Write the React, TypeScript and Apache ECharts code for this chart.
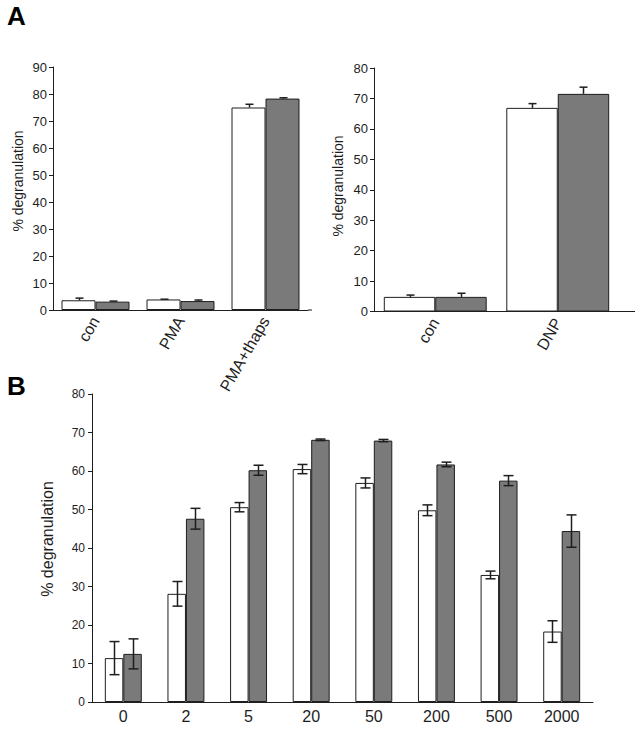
import React, { useEffect, useRef } from "react";
import * as echarts from "echarts";

// Panel A (left)
const catsA1 = ["con", "PMA", "PMA+thaps"];
const whiteA1 = [3.6, 3.9, 75.0];
const errWhiteA1 = [0.8, 0.1, 1.2];
const grayA1 = [3.1, 3.3, 78.3];
const errGrayA1 = [0.2, 0.4, 0.3];

// Panel A (right)
const catsA2 = ["con", "DNP"];
const whiteA2 = [4.8, 66.9];
const errWhiteA2 = [0.6, 1.4];
const grayA2 = [4.8, 71.5];
const errGrayA2 = [1.2, 2.2];

// Panel B
const catsB = ["0", "2", "5", "20", "50", "200", "500", "2000"];
const whiteB = [11.4, 28.1, 50.6, 60.5, 56.9, 49.8, 33.0, 18.3];
const errWhiteB = [4.3, 3.2, 1.2, 1.2, 1.3, 1.4, 1.0, 2.8];
const grayB = [12.5, 47.6, 60.2, 68.1, 67.9, 61.7, 57.5, 44.4];
const errGrayB = [3.9, 2.7, 1.3, 0.2, 0.3, 0.6, 1.3, 4.2];

const Y_NAME = "% degranulation";

const FONT = "Liberation Sans, Arial, Helvetica, sans-serif";
const INK = "#1e1e1e";
const GRAY = "#7a7a7a";

function errSeries(
  gridIdx: number,
  vals: number[],
  errs: number[],
  side: number,
  gapFrac: number,
  both: boolean,
  capW: number
) {
  return {
    type: "custom",
    xAxisIndex: gridIdx,
    yAxisIndex: gridIdx,
    z: 10,
    silent: true,
    encode: { x: 0, y: 1 },
    data: vals.map((v, i) => [i, v, errs[i], side]),
    renderItem: (params: any, api: any) => {
      const i = api.value(0);
      const v = api.value(1);
      const e = api.value(2);
      const s = api.value(3);
      const band = api.size([1, 0])[0];
      const barW = (band * (1 - gapFrac)) / 2;
      const c = api.coord([i, v]);
      const x = Math.round(c[0] + (s === 0 ? -barW / 2 : barW / 2)) + 0.5;
      const yTop = api.coord([i, v + e])[1];
      const yBot = both ? api.coord([i, v - e])[1] : c[1];
      const st = { stroke: INK, lineWidth: 1.5 };
      const children: any[] = [
        { type: "line", shape: { x1: x, y1: yTop, x2: x, y2: yBot }, style: st },
        { type: "line", shape: { x1: x - capW / 2, y1: yTop, x2: x + capW / 2, y2: yTop }, style: st },
      ];
      if (both) {
        children.push({
          type: "line",
          shape: { x1: x - capW / 2, y1: yBot, x2: x + capW / 2, y2: yBot },
          style: st,
        });
      }
      return { type: "group", children };
    },
  };
}

function barSeries(gridIdx: number, vals: number[], color: string, gap: string) {
  return {
    type: "bar",
    xAxisIndex: gridIdx,
    yAxisIndex: gridIdx,
    barGap: "0%",
    barCategoryGap: gap,
    data: vals,
    itemStyle: { color, borderColor: INK, borderWidth: 1 },
    z: 2,
  };
}

function yAxis(gridIdx: number, max: number, fs: number, tickLen: number, margin: number) {
  return {
    type: "value",
    gridIndex: gridIdx,
    min: 0,
    max,
    interval: 10,
    axisLine: { show: true, lineStyle: { color: INK, width: 1 } },
    axisTick: { show: true, length: tickLen, lineStyle: { color: INK } },
    axisLabel: { fontFamily: FONT, fontSize: fs, color: INK, margin },
    splitLine: { show: false },
  };
}

function yName(x: number, y: number, fs: number) {
  return {
    type: "text",
    x,
    y,
    rotation: Math.PI / 2,
    style: {
      text: Y_NAME,
      fontFamily: FONT,
      fontSize: fs,
      fill: INK,
      align: "center",
      verticalAlign: "middle",
    },
  };
}

export default function App() {
  const ref = useRef<HTMLDivElement>(null);
  useEffect(() => {
    if (!ref.current) return;
    const chart = echarts.init(ref.current, undefined, { renderer: "svg" });
    const option: any = {
      animation: false,
      backgroundColor: "#ffffff",
      grid: [
        { left: 53, top: 67, width: 255, height: 243 },
        { left: 374, top: 68, width: 245, height: 243.5 },
        { left: 92, top: 394, width: 501, height: 308 },
      ],
      xAxis: [
        {
          type: "category",
          gridIndex: 0,
          data: catsA1,
          axisLine: { lineStyle: { color: INK, width: 1 } },
          axisTick: { show: false },
          axisLabel: { fontFamily: FONT, fontSize: 16, color: INK, rotate: 60, margin: 8, interval: 0 },
        },
        {
          type: "category",
          gridIndex: 1,
          data: catsA2,
          axisLine: { lineStyle: { color: INK, width: 1 } },
          axisTick: { show: false },
          axisLabel: { fontFamily: FONT, fontSize: 16, color: INK, rotate: 60, margin: 8, interval: 0 },
        },
        {
          type: "category",
          gridIndex: 2,
          data: catsB,
          axisLine: { lineStyle: { color: INK, width: 1 } },
          axisTick: { show: false },
          axisLabel: { fontFamily: FONT, fontSize: 16, color: INK, margin: 6, interval: 0 },
        },
      ],
      yAxis: [yAxis(0, 90, 13, 4, 6), yAxis(1, 80, 13, 4, 6), yAxis(2, 80, 12, 4, 7)],
      series: [
        barSeries(0, whiteA1, "#ffffff", "20%"),
        barSeries(0, grayA1, GRAY, "20%"),
        errSeries(0, whiteA1, errWhiteA1, 0, 0.2, false, 8),
        errSeries(0, grayA1, errGrayA1, 1, 0.2, false, 8),
        barSeries(1, whiteA2, "#ffffff", "16%"),
        barSeries(1, grayA2, GRAY, "16%"),
        errSeries(1, whiteA2, errWhiteA2, 0, 0.16, false, 8),
        errSeries(1, grayA2, errGrayA2, 1, 0.16, false, 8),
        barSeries(2, whiteB, "#ffffff", "41%"),
        barSeries(2, grayB, GRAY, "41%"),
        errSeries(2, whiteB, errWhiteB, 0, 0.41, true, 10),
        errSeries(2, grayB, errGrayB, 1, 0.41, true, 10),
      ],
      graphic: [
        {
          type: "text",
          left: 7,
          top: 3,
          style: { text: "A", fontFamily: FONT, fontSize: 26, fontWeight: "bold", fill: "#000" },
        },
        {
          type: "text",
          left: 7,
          top: 373,
          style: { text: "B", fontFamily: FONT, fontSize: 26, fontWeight: "bold", fill: "#000" },
        },
        yName(18, 181, 14),
        yName(337.5, 186, 14),
        yName(47, 539, 16),
        {
          type: "line",
          shape: { x1: 308, y1: 310, x2: 312, y2: 310 },
          style: { stroke: INK, lineWidth: 1 },
        },
        {
          type: "line",
          shape: { x1: 619, y1: 311.5, x2: 635, y2: 311.5 },
          style: { stroke: INK, lineWidth: 1 },
        },
      ],
    };
    chart.setOption(option);
    return () => chart.dispose();
  }, []);
  return (
    <div
      ref={ref}
      style={{ position: "absolute", left: 0, top: 0, width: 641, height: 730, background: "#fff" }}
    />
  );
}
